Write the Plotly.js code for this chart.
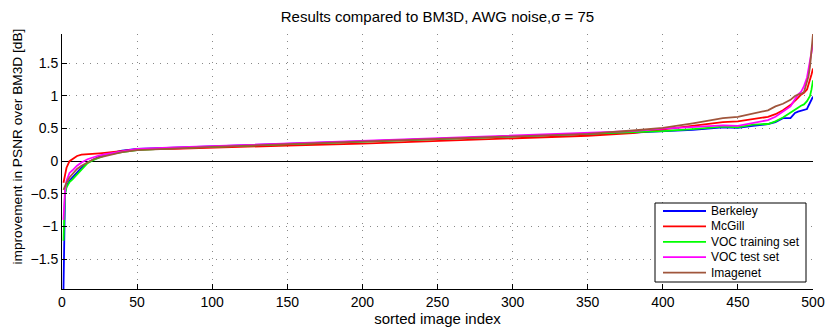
<!DOCTYPE html>
<html>
<head>
<meta charset="utf-8">
<script src="https://cdn.plot.ly/plotly-3.0.1.min.js"></script>
<style>
  html, body { margin: 0; padding: 0; background: #fff; }
  #chart { width: 830px; height: 329px; }
</style>
</head>
<body>
<div id="chart"></div>
<script>
// ===== Data =====
const imageIndex = [1, 2, 3, 5, 7, 10, 13, 17, 21, 25, 30, 40, 50, 75, 100, 150, 200, 250, 300, 350,
    380, 400, 420, 440, 450, 460, 470, 475, 480, 485, 488, 490, 492, 494, 496, 497, 498, 499, 500];

const berkeley = [-1.96, -0.5, -0.38, -0.3, -0.25, -0.17, -0.1, -0.02, 0.03, 0.07, 0.11, 0.16, 0.19, 0.21, 0.23, 0.27, 0.30, 0.34, 0.38, 0.42,
    0.44, 0.46, 0.48, 0.52, 0.51, 0.54, 0.57, 0.60, 0.66, 0.66, 0.74, 0.76, 0.77, 0.78, 0.80, 0.85, 0.90, 0.95, 0.99];

const mcgill = [-0.33, -0.2, -0.1, 0.0, 0.03, 0.08, 0.10, 0.11, 0.11, 0.12, 0.13, 0.16, 0.18, 0.19, 0.21, 0.24, 0.27, 0.31, 0.35, 0.39,
    0.43, 0.49, 0.54, 0.60, 0.61, 0.64, 0.68, 0.72, 0.78, 0.86, 0.92, 0.97, 1.02, 1.05, 1.10, 1.17, 1.25, 1.33, 1.42];

const vocTrain = [-1.22, -0.5, -0.4, -0.32, -0.28, -0.2, -0.13, -0.03, 0.02, 0.06, 0.10, 0.14, 0.17, 0.20, 0.22, 0.26, 0.30, 0.34, 0.38, 0.42,
    0.44, 0.46, 0.49, 0.53, 0.52, 0.56, 0.57, 0.61, 0.67, 0.74, 0.78, 0.82, 0.85, 0.87, 0.92, 0.96, 1.00, 1.10, 1.24];

const vocTest = [-0.9, -0.45, -0.3, -0.18, -0.14, -0.07, -0.02, 0.03, 0.06, 0.09, 0.11, 0.15, 0.19, 0.21, 0.23, 0.27, 0.31, 0.35, 0.39, 0.43,
    0.46, 0.50, 0.52, 0.55, 0.54, 0.58, 0.63, 0.68, 0.76, 0.84, 0.95, 1.02, 1.06, 1.15, 1.28, 1.40, 1.55, 1.70, 1.80];

const imagenet = [-0.44, -0.38, -0.33, -0.25, -0.2, -0.12, -0.07, -0.02, 0.03, 0.06, 0.09, 0.14, 0.17, 0.20, 0.22, 0.26, 0.30, 0.34, 0.38, 0.42,
    0.47, 0.51, 0.58, 0.66, 0.68, 0.73, 0.78, 0.84, 0.88, 0.94, 1.00, 1.02, 1.03, 1.06, 1.20, 1.30, 1.45, 1.65, 1.95];

const seriesNames = ['Berkeley', 'McGill', 'VOC training set', 'VOC test set', 'Imagenet'];
const seriesValues = [berkeley, mcgill, vocTrain, vocTest, imagenet];
const seriesColors = ['#0000ff', '#ff0000', '#00ff00', '#ff00ff', '#a0563c'];

const xTicks = [0, 50, 100, 150, 200, 250, 300, 350, 400, 450, 500];
const yTicks = [-1.5, -1, -0.5, 0, 0.5, 1, 1.5];
const yTickText = ['\u22121.5', '\u22121', '\u22120.5', '0', '0.5', '1', '1.5'];

// ===== Page geometry =====
const W = 830, H = 329;
const M = { l: 62, r: 17, t: 34, b: 40 };
const plotW = W - M.l - M.r;
const plotH = H - M.t - M.b;
const px2x = px => (px - M.l) / plotW;          // pixel -> paper x
const py2y = py => (H - M.b - py) / plotH;      // pixel -> paper y

const FONT = 'Liberation Sans, Arial, Helvetica, sans-serif';

// ===== Legend (MATLAB style box, drawn by hand for the tight row spacing) =====
function legendParts() {
    const box = { x0: 655, x1: 806, y0: 203, y1: 282 };
    const rowTop = 211, rowStep = 15.4;
    const shapes = [{
        type: 'rect', xref: 'paper', yref: 'paper',
        x0: px2x(box.x0), x1: px2x(box.x1), y0: py2y(box.y1), y1: py2y(box.y0),
        fillcolor: 'white', line: { color: '#000', width: 1 }, layer: 'above'
    }];
    const annotations = [];
    seriesNames.forEach((name, k) => {
        const py = rowTop + k * rowStep;
        shapes.push({
            type: 'line', xref: 'paper', yref: 'paper',
            x0: px2x(663), x1: px2x(706), y0: py2y(py), y1: py2y(py),
            line: { color: seriesColors[k], width: 1.8 }, layer: 'above'
        });
        annotations.push({
            xref: 'paper', yref: 'paper', x: px2x(709), y: py2y(py),
            xanchor: 'left', yanchor: 'middle', showarrow: false,
            text: name, font: { family: FONT, size: 12, color: '#000' }
        });
    });
    return { shapes, annotations };
}

// ===== Build chart =====
function createChart() {
    const traces = seriesNames.map((name, k) => ({
        x: imageIndex,
        y: seriesValues[k],
        type: 'scatter',
        mode: 'lines',
        name: name,
        showlegend: false,
        line: { color: seriesColors[k], width: 1.8 }
    }));

    const tickFont = { family: FONT, size: 14, color: '#000' };
    const legend = legendParts();

    // y label sits a bit above the plot centre in the original, so place it by hand
    legend.annotations.push({
        xref: 'paper', yref: 'paper', x: px2x(17), y: py2y(146.5),
        xanchor: 'center', yanchor: 'middle', showarrow: false, textangle: -90,
        text: 'improvement in PSNR over BM3D [dB]',
        font: { family: FONT, size: 13.7, color: '#000' }
    });

    const layout = {
        width: W,
        height: H,
        margin: M,
        paper_bgcolor: 'white',
        plot_bgcolor: 'white',
        font: tickFont,
        showlegend: false,
        title: {
            text: 'Results compared to BM3D, AWG noise,\u03c3 = 75',
            font: { family: FONT, size: 15, color: '#000' },
            x: 0.5,
            xref: 'paper',
            y: 1 - 17 / H,
            yanchor: 'middle'
        },
        xaxis: {
            range: [0, 500],
            tickvals: xTicks,
            ticks: 'inside',
            ticklen: 5,
            tickcolor: '#000',
            showline: true,
            linecolor: '#000',
            linewidth: 1,
            showgrid: true,
            gridcolor: '#888',
            griddash: '1px,6px',
            gridwidth: 1,
            zeroline: false,
            tickfont: tickFont,
            title: { text: 'sorted image index', font: { family: FONT, size: 15, color: '#000' }, standoff: 2 }
        },
        yaxis: {
            range: [-1.96, 1.95],
            tickvals: yTicks,
            ticktext: yTickText,
            ticks: 'inside',
            ticklen: 5,
            tickcolor: '#000',
            showline: true,
            linecolor: '#000',
            linewidth: 1,
            showgrid: true,
            gridcolor: '#888',
            griddash: '1px,6px',
            gridwidth: 1,
            zeroline: true,
            zerolinecolor: '#000',
            zerolinewidth: 1,
            tickfont: tickFont
        },
        shapes: legend.shapes,
        annotations: legend.annotations
    };

    Plotly.newPlot('chart', traces, layout, { displayModeBar: false, staticPlot: true });
}

createChart();
</script>
</body>
</html>
